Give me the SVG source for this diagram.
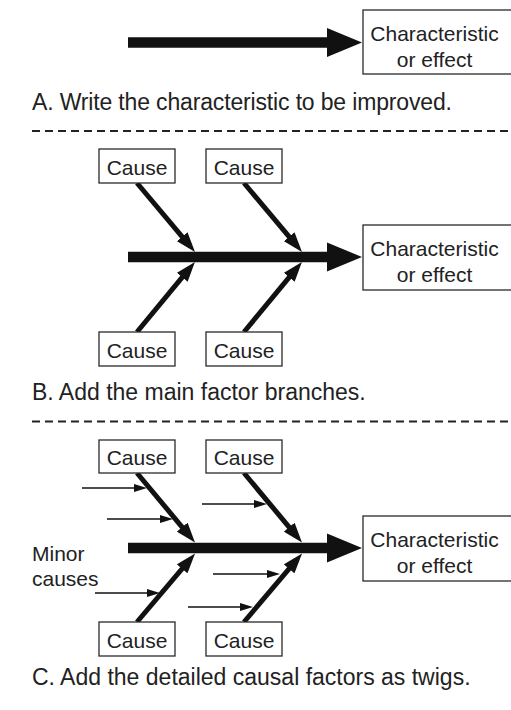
<svg xmlns="http://www.w3.org/2000/svg" width="511" height="710" viewBox="0 0 511 710">
<style>
  .box { fill: #ffffff; stroke: #2a2a2a; stroke-width: 1.3; }
  .lbl { font-family: "Liberation Sans", Arial, sans-serif; font-size: 21px; fill: #222; }
  .minor { font-family: "Liberation Sans", Arial, sans-serif; font-size: 21px; fill: #222; }
  .ttl { font-family: "Liberation Sans", Arial, sans-serif; font-size: 23px; fill: #222; }
  .spine { stroke: #111; stroke-width: 10.5; }
  .head { fill: #111; }
  .bone { stroke: #111; stroke-width: 5; fill: none; marker-end: url(#big); }
  .twig { stroke: #111; stroke-width: 1.5; fill: none; marker-end: url(#small); }
  .dash { stroke: #222; stroke-width: 2; stroke-dasharray: 8 5; }
</style>
<defs>
  <marker id="big" markerUnits="userSpaceOnUse" viewBox="0 0 20 14" markerWidth="20" markerHeight="14" refX="8" refY="7" orient="auto">
    <path d="M0,0 L20,7 L0,14 Z" fill="#111"/>
  </marker>
  <marker id="small" markerUnits="userSpaceOnUse" viewBox="0 0 13 8" markerWidth="13" markerHeight="8" refX="5" refY="4" orient="auto">
    <path d="M0,0 L13,4 L0,8 Z" fill="#111"/>
  </marker>
</defs>
<rect width="511" height="710" fill="#fff"/>

<!-- Panel A -->
<g id="connectors-a">
  <line class="spine" x1="128" y1="42.5" x2="330" y2="42.5"/>
  <polygon class="head" points="327,28 362,42.5 327,57"/>
</g>
<g id="effect-a">
  <rect class="box" x="363" y="10" width="152" height="64"/>
  <text class="lbl" x="434.5" y="41" text-anchor="middle">Characteristic</text>
  <text class="lbl" x="434.5" y="67" text-anchor="middle">or effect</text>
</g>
<text class="ttl" x="32" y="110" textLength="420" lengthAdjust="spacing">A. Write the characteristic to be improved.</text>
<line class="dash" x1="32" y1="131" x2="511" y2="131"/>

<!-- Panel B -->
<g id="connectors-b">
  <line class="spine" x1="128" y1="257" x2="330" y2="257"/>
  <polygon class="head" points="327,242.5 362,257 327,271.5"/>
  <line class="bone" x1="137" y1="183" x2="187.3" y2="242.8"/>
  <line class="bone" x1="244" y1="183" x2="294.3" y2="242.8"/>
  <line class="bone" x1="137" y1="332" x2="187.3" y2="271.2"/>
  <line class="bone" x1="244" y1="332" x2="294.3" y2="271.2"/>
</g>
<g id="cause-b1"><rect class="box" x="99" y="149" width="76" height="34"/><text class="lbl" x="137" y="175" text-anchor="middle">Cause</text></g>
<g id="cause-b2"><rect class="box" x="206" y="149" width="76" height="34"/><text class="lbl" x="244" y="175" text-anchor="middle">Cause</text></g>
<g id="cause-b3"><rect class="box" x="99" y="332" width="76" height="34"/><text class="lbl" x="137" y="358" text-anchor="middle">Cause</text></g>
<g id="cause-b4"><rect class="box" x="206" y="332" width="76" height="34"/><text class="lbl" x="244" y="358" text-anchor="middle">Cause</text></g>
<g id="effect-b">
  <rect class="box" x="363" y="225" width="152" height="65"/>
  <text class="lbl" x="434.5" y="256" text-anchor="middle">Characteristic</text>
  <text class="lbl" x="434.5" y="282" text-anchor="middle">or effect</text>
</g>
<text class="ttl" x="32" y="400">B. Add the main factor branches.</text>
<line class="dash" x1="32" y1="421.5" x2="511" y2="421.5"/>

<!-- Panel C -->
<g id="connectors-c">
  <line class="spine" x1="128" y1="548" x2="330" y2="548"/>
  <polygon class="head" points="327,533.5 362,548 327,562.5"/>
  <line class="bone" x1="137" y1="473" x2="187.3" y2="533.3"/>
  <line class="bone" x1="244" y1="473" x2="294.3" y2="533.3"/>
  <line class="bone" x1="137" y1="622" x2="187.3" y2="562.7"/>
  <line class="bone" x1="244" y1="622" x2="294.3" y2="562.7"/>
  <line class="twig" x1="82" y1="488" x2="139" y2="488"/>
  <line class="twig" x1="107" y1="519" x2="165" y2="519"/>
  <line class="twig" x1="202" y1="504" x2="259" y2="504"/>
  <line class="twig" x1="213" y1="574" x2="272" y2="574"/>
  <line class="twig" x1="95" y1="593" x2="152" y2="593"/>
  <line class="twig" x1="188" y1="607" x2="245" y2="607"/>
</g>
<g id="cause-c1"><rect class="box" x="99" y="440" width="76" height="33"/><text class="lbl" x="137" y="465" text-anchor="middle">Cause</text></g>
<g id="cause-c2"><rect class="box" x="206" y="440" width="76" height="33"/><text class="lbl" x="244" y="465" text-anchor="middle">Cause</text></g>
<g id="cause-c3"><rect class="box" x="99" y="622" width="76" height="34"/><text class="lbl" x="137" y="648" text-anchor="middle">Cause</text></g>
<g id="cause-c4"><rect class="box" x="206" y="622" width="76" height="34"/><text class="lbl" x="244" y="648" text-anchor="middle">Cause</text></g>
<g id="effect-c">
  <rect class="box" x="363" y="516" width="152" height="65"/>
  <text class="lbl" x="434.5" y="547" text-anchor="middle">Characteristic</text>
  <text class="lbl" x="434.5" y="573" text-anchor="middle">or effect</text>
</g>
<g id="minor-label">
  <text class="minor" x="32" y="561">Minor</text>
  <text class="minor" x="32" y="586">causes</text>
</g>
<text class="ttl" x="32" y="685">C. Add the detailed causal factors as twigs.</text>
</svg>
